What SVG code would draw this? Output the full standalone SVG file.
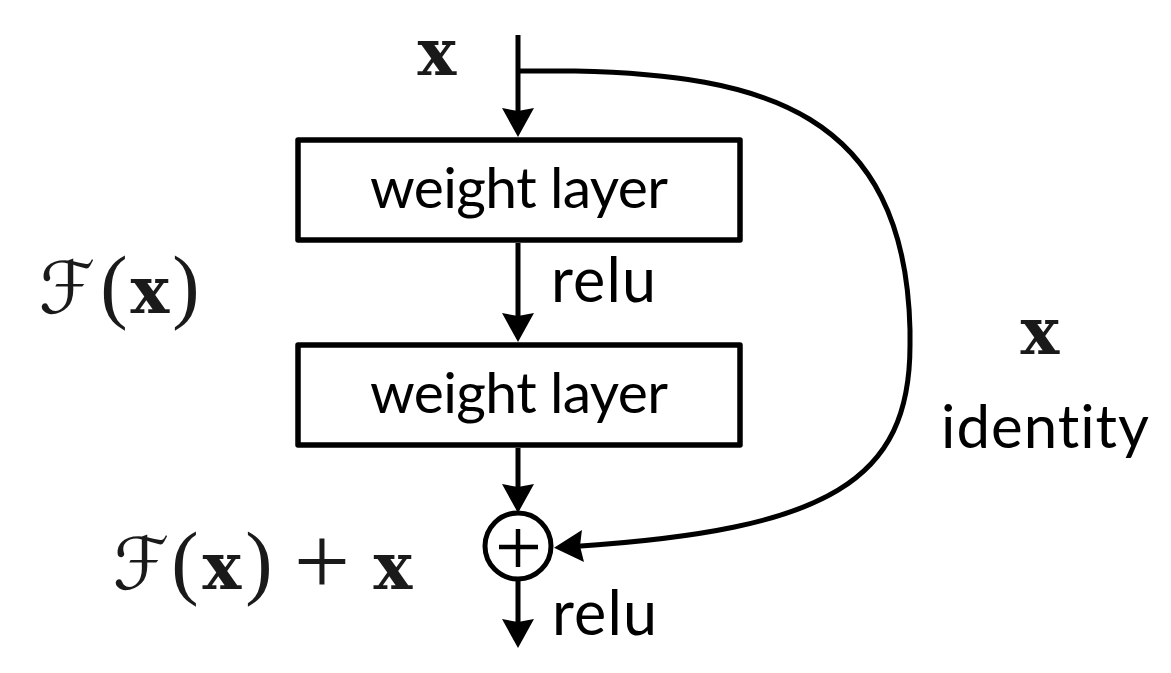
<svg xmlns="http://www.w3.org/2000/svg" width="1171" height="673" viewBox="0 0 1171 673">
<style>
  .box { fill: #fff; stroke: #000; stroke-width: 5.5; stroke-linejoin: round; }
  .line { fill: none; stroke: #000; stroke-width: 5; }
  .lbl { font-family: Lato, "Open Sans", "Liberation Sans", sans-serif; font-size: 57px; fill: #000; font-variant-ligatures: none; }
  .relu { font-size: 61px; }
  .mx { font-family: "DejaVu Serif", "Liberation Serif", serif; font-weight: bold; font-size: 65px; fill: #1a1a1a; text-anchor: middle; }
  .mf { font-family: "DejaVu Sans", "DejaVu Serif", sans-serif; font-size: 72px; fill: #1a1a1a; text-anchor: middle; }
  .mp { font-family: "Liberation Serif", "DejaVu Serif", serif; font-size: 82px; fill: #1a1a1a; text-anchor: middle; }
  .mplus { font-family: "Liberation Serif", "DejaVu Serif", serif; font-size: 100px; fill: #1a1a1a; text-anchor: middle; }
</style>
<defs>
  <marker id="ah" viewBox="-12 -17 34 34" refX="0" refY="0" markerWidth="34" markerHeight="34" markerUnits="userSpaceOnUse" orient="auto">
    <path d="M20,0 L-9,-16 L-6,0 L-9,16 Z" fill="#000"/>
  </marker>
</defs>
<rect width="1171" height="673" fill="#fff"/>

<g id="connectors">
  <path class="line" d="M518,35 V117" marker-end="url(#ah)"/>
  <path class="line" d="M518,243 V322" marker-end="url(#ah)"/>
  <path class="line" d="M518,448 V493" marker-end="url(#ah)"/>
  <path class="line" d="M518,580 V628" marker-end="url(#ah)"/>
  <path class="line" d="M518,71 H575 C760,75 905,110 910,330 V345 C910,480 830,530 574,546.5" marker-end="url(#ah)"/>
</g>

<g id="weight1">
  <rect class="box" x="298" y="140" width="442" height="100"/>
  <text class="lbl" x="519" y="208" text-anchor="middle" textLength="298" lengthAdjust="spacing">weight layer</text>
</g>
<g id="weight2">
  <rect class="box" x="298" y="345" width="442" height="100"/>
  <text class="lbl" x="519" y="413" text-anchor="middle" textLength="298" lengthAdjust="spacing">weight layer</text>
</g>
<g id="add">
  <circle cx="518" cy="546" r="33" fill="#fff" stroke="#000" stroke-width="5"/>
  <path d="M499,547 H538 M518,529 V567" stroke="#000" stroke-width="4.5" fill="none"/>
</g>

<g id="labels">
  <text class="mx" x="437" y="75">x</text>
  <text class="lbl relu" x="551" y="302" textLength="105" lengthAdjust="spacing">relu</text>
  <text class="lbl relu" x="552" y="635" textLength="105" lengthAdjust="spacing">relu</text>
  <text class="mx" x="1040" y="354">x</text>
  <text class="lbl" x="941" y="448" style="font-size:60px" textLength="208" lengthAdjust="spacing">identity</text>
</g>

<g id="fx">
  <text class="mf" x="67" y="313">ℱ</text>
  <text class="mp" x="114" y="313">(</text>
  <text class="mx" x="150" y="313">x</text>
  <text class="mp" x="186" y="313">)</text>
</g>
<g id="fxplusx">
  <text class="mf" x="141" y="589">ℱ</text>
  <text class="mp" x="185" y="589">(</text>
  <text class="mx" x="222" y="589">x</text>
  <text class="mp" x="259" y="589">)</text>
  <text class="mplus" x="322" y="595">+</text>
  <text class="mx" x="393" y="589">x</text>
</g>
</svg>
